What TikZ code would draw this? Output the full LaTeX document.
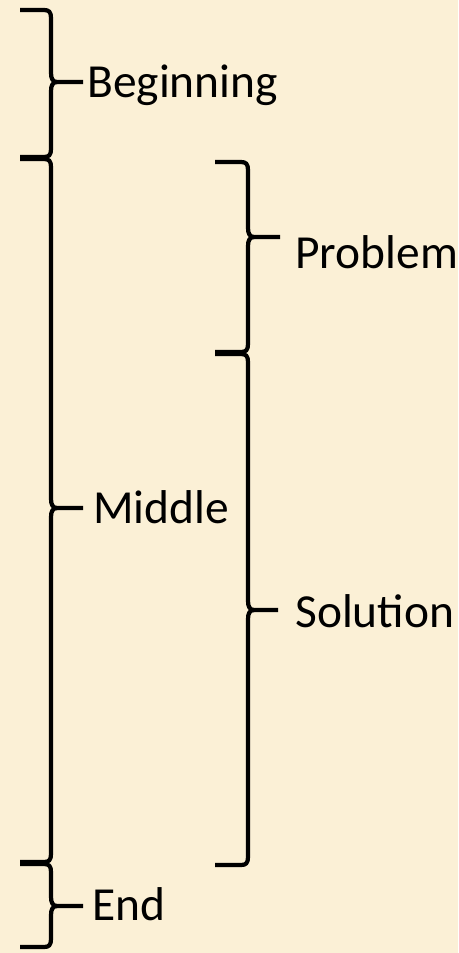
\documentclass[tikz,border=0pt]{standalone}
\usepackage{fontspec}
\setmainfont{Carlito}
\definecolor{parchment}{RGB}{251,240,214}
\usepackage{tikz}
\usetikzlibrary{positioning}

% brace: left end x, spine x, tip x, top y, tip y, bottom y
\newcommand\storybrace[6]{%
  \draw[bracestyle] ({#1},{#4}) -- ({#2-7},{#4})
    .. controls ({#2-2},{#4}) and ({#2},{#4+2}) .. ({#2},{#4+8})
    -- ({#2},{#5-9})
    .. controls ({#2},{#5-3}) and ({#2+2},{#5}) .. ({#2+6},{#5})
    -- ({#3},{#5});
  \draw[bracestyle] ({#2+6},{#5})
    .. controls ({#2+2},{#5}) and ({#2},{#5+3}) .. ({#2},{#5+9})
    -- ({#2},{#6-8})
    .. controls ({#2},{#6-2}) and ({#2-2},{#6}) .. ({#2-7},{#6})
    -- ({#1},{#6});}

\begin{document}
\begin{tikzpicture}[x=0.02cm,y=-0.02cm,
                    bracestyle/.style={line width=2.4pt,line cap=butt,line join=round},
                    part/.style={anchor=base west,inner sep=0pt,
                                 font=\fontsize{27}{32}\selectfont}]
  \fill[parchment] (0,0) rectangle (458,953);

  % outer level
  \storybrace{20}{51}{83}{10}{82}{157}
  \storybrace{20}{51}{83}{159}{508}{862}
  \storybrace{20}{51}{83}{864}{906}{947}
  \node[part] (beginning) at (87,98) {Beginning};
  \node[part] (middle) at (93,523) {Middle};
  \node[part] (ending) at (92,920) {End};

  % inner level
  \storybrace{215}{248}{280}{162}{237}{352}
  \storybrace{215}{248}{278}{354}{610}{865}
  \node[part] (problem) at (295,268) {Problem};
  \node[part] (solution) at (295,627) {Solution};
\end{tikzpicture}
\end{document}
